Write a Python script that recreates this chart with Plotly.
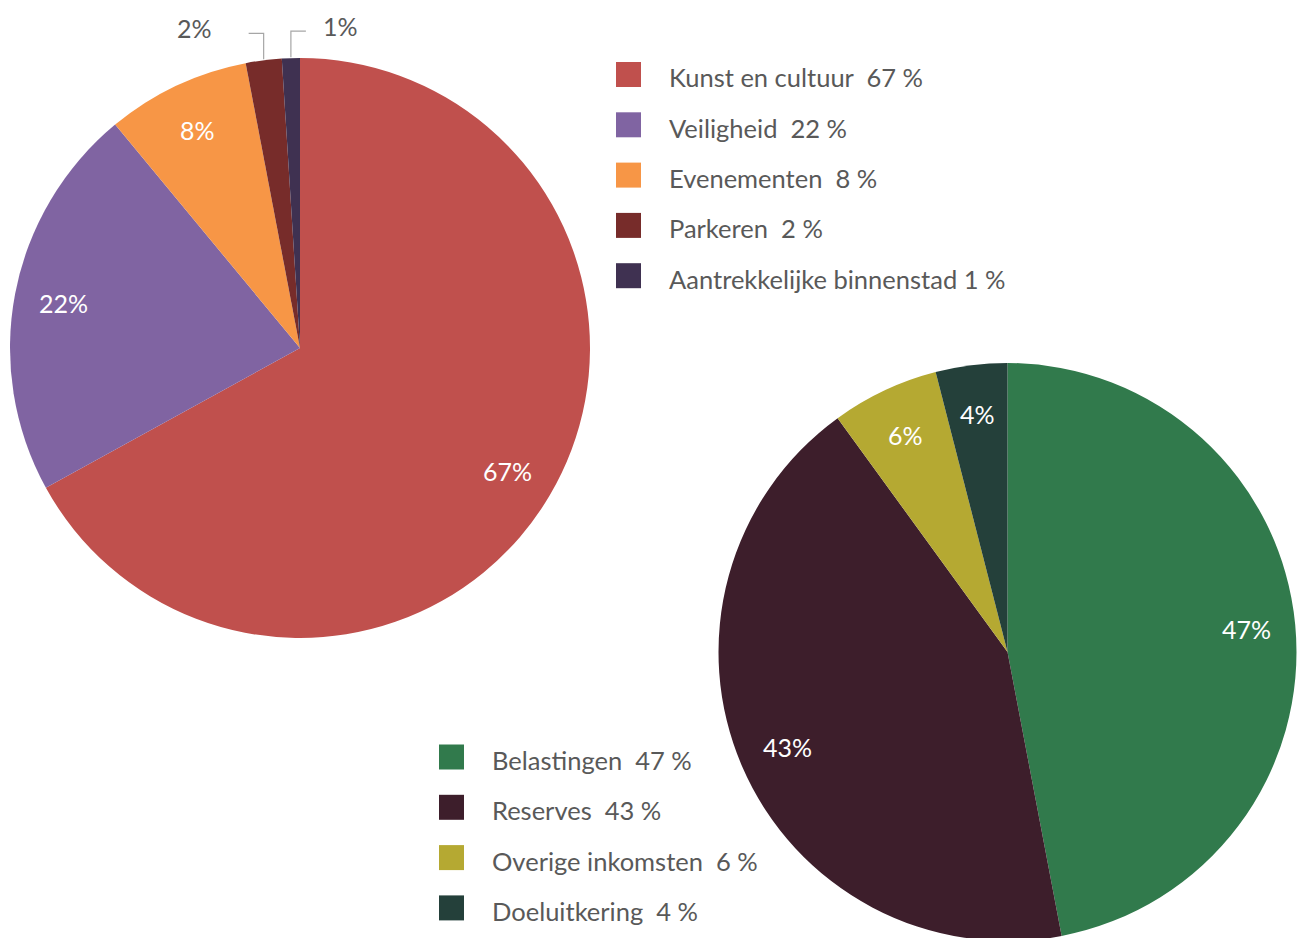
import numpy as np
import plotly.graph_objects as go

W, H = 1305, 938
OFF = 8  # default page body margin

# ---------------- data ----------------
exp_labels = ["Kunst en cultuur", "Veiligheid", "Evenementen", "Parkeren", "Aantrekkelijke binnenstad"]
exp_values = [67, 22, 8, 2, 1]
exp_colors = ["#C0504D", "#8064A2", "#F79646", "#772C2A", "#3F3151"]
exp_outside = [False, False, False, True, True]

inc_labels = ["Belastingen", "Reserves", "Overige inkomsten", "Doeluitkering"]
inc_values = [47, 43, 6, 4]
inc_colors = ["#317A4C", "#3D1E2B", "#B5A932", "#24403A"]

TEXT_GRAY = "#595959"
FONT = "Lato"

# ---------------- layout geometry (pixels, page coords) ----------------
P1 = dict(cx=300, cy=348, r=290)
P2 = dict(cx=1007.5, cy=652, r=289)


def px2paper(x, y):
    return (x - OFF) / W, 1 - (y - OFF) / H


def domain(p):
    x0, y0 = px2paper(p["cx"] - p["r"], p["cy"] + p["r"])
    x1, y1 = px2paper(p["cx"] + p["r"], p["cy"] - p["r"])
    return dict(x=[max(0, x0), min(1, x1)], y=[max(0, y0), min(1, y1)])


fig = go.Figure()
for labels, values, colors, p in [(exp_labels, exp_values, exp_colors, P1),
                                  (inc_labels, inc_values, inc_colors, P2)]:
    fig.add_trace(go.Pie(
        labels=labels, values=values, sort=False, direction="clockwise", rotation=0,
        marker=dict(colors=colors, line=dict(width=0)),
        textinfo="none", showlegend=False, domain=domain(p),
    ))

annotations = []
shapes = []


def slice_mids(values):
    v = np.asarray(values, dtype=float)
    frac = v / v.sum()
    cum = np.cumsum(frac) - frac / 2
    return cum * 2 * np.pi


def add_labels(values, p, outside=None, rf=0.84):
    mids = slice_mids(values)
    tot = float(np.sum(values))
    for i, (v, a) in enumerate(zip(values, mids)):
        txt = f"{round(100 * v / tot)}%"
        if outside is not None and outside[i]:
            ex = p["cx"] + p["r"] * np.sin(a)
            ey = p["cy"] - p["r"] * np.cos(a)
            ly = ey - 27
            left = np.sin(a) < -0.05
            hx = ex - 15 if left else ex + 15
            x0, y0 = px2paper(ex, ey - 1)
            x1, y1 = px2paper(ex, ly)
            x2, y2 = px2paper(hx, ly)
            shapes.append(dict(type="path", xref="paper", yref="paper",
                               path=f"M{x0},{y0} L{x1},{y1} L{x2},{y2}",
                               line=dict(color="#A6A6A6", width=1.2)))
            tx = ex - 50 if left else ex + 30
            ax, ay = px2paper(tx, ly - 5)
            annotations.append(dict(x=ax, y=ay, xref="paper", yref="paper", text=txt,
                                    showarrow=False, xanchor="right" if left else "left",
                                    yanchor="middle",
                                    font=dict(family=FONT, size=25, color=TEXT_GRAY)))
        else:
            rr = rf * p["r"]
            x = p["cx"] + rr * np.sin(a)
            y = p["cy"] - rr * np.cos(a)
            ax, ay = px2paper(x, y)
            annotations.append(dict(x=ax, y=ay, xref="paper", yref="paper", text=txt,
                                    showarrow=False, xanchor="center", yanchor="middle",
                                    font=dict(family=FONT, size=25, color="#FFFFFF")))


add_labels(exp_values, P1, exp_outside, rf=0.83)
add_labels(inc_values, P2, rf=0.83)


def add_legend(labels, values, colors, mx, my0, step=50.3, size=25, gap=26):
    for i, (lab, v, c) in enumerate(zip(labels, values, colors)):
        cy = my0 + i * step
        x0, y0 = px2paper(mx, cy + size / 2)
        x1, y1 = px2paper(mx + size, cy - size / 2)
        shapes.append(dict(type="rect", xref="paper", yref="paper",
                           x0=x0, y0=y0, x1=x1, y1=y1,
                           fillcolor=c, line=dict(width=0)))
        sep = "\u00a0" if i == len(labels) - 1 and len(lab) > 20 else "\u00a0\u00a0"
        tx, ty = px2paper(mx + size + gap, cy + 3)
        annotations.append(dict(x=tx, y=ty, xref="paper", yref="paper",
                                text=f"{lab}{sep}{v}\u00a0%", showarrow=False,
                                xanchor="left", yanchor="middle",
                                font=dict(family=FONT, size=25.5, color=TEXT_GRAY)))


add_legend(exp_labels, exp_values, exp_colors, 616, 74.5)
add_legend(inc_labels, inc_values, inc_colors, 439, 757)

fig.update_layout(
    width=W, height=H,
    margin=dict(l=0, r=0, t=0, b=0),
    paper_bgcolor="white", plot_bgcolor="white",
    annotations=annotations, shapes=shapes,
    showlegend=False,
)

fig.write_html("out.html")
